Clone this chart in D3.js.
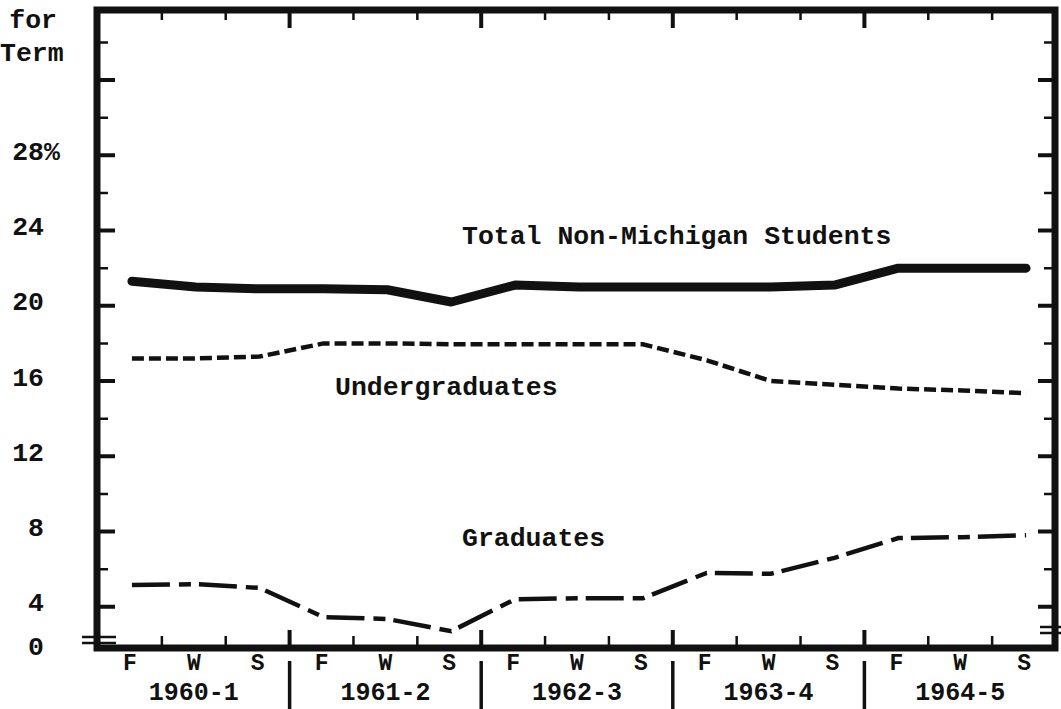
<!DOCTYPE html>
<html>
<head>
<meta charset="utf-8">
<script src="https://cdn.jsdelivr.net/npm/d3@7/dist/d3.min.js"></script>
<style>
  body { margin: 0; background: #fff; }
  text { font-family: "Liberation Mono", "DejaVu Sans Mono", monospace; font-size: 26.5px; font-weight: bold; fill: #111; }
  text.small { font-size: 23px; }
  text.yr { font-size: 25px; }
</style>
</head>
<body>
<script>
var terms = ["F", "W", "S"],
    years = ["1960-1", "1961-2", "1962-3", "1963-4", "1964-5"],
    yTicks = [4, 8, 12, 16, 20, 24, 28],
    total = [21.3, 21.0, 20.9, 20.9, 20.85, 20.2, 21.1, 21.0, 21.0, 21.0, 21.0, 21.1, 22.0, 22.0, 22.0],
    undergrad = [17.2, 17.2, 17.3, 18.0, 18.0, 17.95, 17.95, 17.95, 17.95, 17.1, 16.0, 15.8, 15.6, 15.5, 15.35],
    grad = [5.15, 5.2, 5.0, 3.45, 3.35, 2.7, 4.4, 4.45, 4.45, 5.8, 5.75, 6.6, 7.65, 7.7, 7.8];

var width = 1061, height = 709,
    fLeft = 97, fRight = 1055, fTop = 10, fBottom = 648;

var svg = d3.select("body").append("svg")
    .attr("width", width)
    .attr("height", height);

var nTerms = years.length * terms.length;
var x = d3.scaleLinear().domain([0, nTerms]).range([98, 1056]);
var y = d3.scaleLinear().domain([0, 32]).range([682, 80]);

var ink = "#111";

// y ticks, both sides, pointing inward
var minorY = d3.range(6, 35, 4), majorY = d3.range(4, 33, 4);
svg.selectAll(".ymaj").data(majorY).enter().append("path")
    .attr("stroke", ink).attr("stroke-width", 4)
    .attr("d", function(d) {
        return "M" + [fLeft, y(d)] + "H" + (fLeft + 18) + "M" + [fRight, y(d)] + "H" + (fRight - 17);
    });
svg.selectAll(".ymin").data(minorY).enter().append("path")
    .attr("stroke", ink).attr("stroke-width", 2.5)
    .attr("d", function(d) {
        return "M" + [fLeft, y(d)] + "H" + (fLeft + 11) + "M" + [fRight, y(d)] + "H" + (fRight - 11);
    });

// x ticks at term boundaries, bottom and top
var bounds = d3.range(1, nTerms);
svg.selectAll(".xt").data(bounds).enter().append("path")
    .attr("stroke", ink)
    .attr("stroke-width", function(d) { return d % 3 ? 2.5 : 4; })
    .attr("d", function(d) {
        var h = d % 3 ? 12 : 18;
        return "M" + [x(d), fBottom] + "V" + (fBottom - h) +
               "M" + [x(d), fTop] + "V" + (fTop + (d % 3 ? 10 : 18));
    });

// frame
svg.append("rect")
    .attr("x", fLeft).attr("y", fTop)
    .attr("width", fRight - fLeft).attr("height", fBottom - fTop)
    .attr("fill", "none").attr("stroke", ink).attr("stroke-width", 7);

// scale break marks
[[82, 116, 637], [82, 116, 643], [1040, 1061, 627], [1040, 1061, 633]].forEach(function(b) {
    svg.append("path").attr("stroke", ink).attr("stroke-width", 2.5)
        .attr("d", "M" + [b[0], b[2]] + "H" + b[1]);
});

// year separators below axis
svg.selectAll(".sep").data([3, 6, 9, 12]).enter().append("path")
    .attr("stroke", ink).attr("stroke-width", 3.5)
    .attr("d", function(d) { return "M" + [x(d), 661] + "V" + 709; });

// term and year labels
svg.selectAll(".term").data(d3.range(nTerms)).enter().append("text")
    .attr("class", "small")
    .attr("x", function(i) { return x(i + 0.5); })
    .attr("y", 670)
    .attr("text-anchor", "middle")
    .text(function(i) { return terms[i % 3]; });
svg.selectAll(".year").data(years).enter().append("text")
    .attr("class", "yr")
    .attr("x", function(d, i) { return x(i * 3 + 1.5); })
    .attr("y", 700)
    .attr("text-anchor", "middle")
    .text(function(d) { return d; });

// y labels
svg.selectAll(".yl").data(yTicks).enter().append("text")
    .attr("x", 44)
    .attr("y", function(d) { return y(d) + 4.5; })
    .attr("text-anchor", "end")
    .text(function(d) { return d; });
svg.append("text").attr("x", 44).attr("y", y(28) + 4.5).text("%");
svg.append("text").attr("x", 44).attr("y", 655).attr("text-anchor", "end").text("0");
svg.append("text").attr("x", 57).attr("y", 28).attr("text-anchor", "end").text("for");
svg.append("text").attr("x", 0).attr("y", 61).text("Term");

// series
var line = d3.line()
    .x(function(d, i) { return x(i + 0.5) + 2; })
    .y(function(d) { return y(d); });

svg.append("path").datum(total)
    .attr("fill", "none").attr("stroke", ink).attr("stroke-width", 9)
    .attr("stroke-linejoin", "round").attr("stroke-linecap", "round")
    .attr("d", line);
svg.append("path").datum(undergrad)
    .attr("fill", "none").attr("stroke", ink).attr("stroke-width", 4.5)
    .attr("stroke-dasharray", "12,5")
    .attr("d", line);
svg.append("path").datum(grad)
    .attr("fill", "none").attr("stroke", ink).attr("stroke-width", 4.5)
    .attr("stroke-dasharray", "38,9,12,8")
    .attr("d", line);

svg.append("text").attr("x", 462).attr("y", 244).text("Total Non-Michigan Students");
svg.append("text").attr("x", 335).attr("y", 395).text("Undergraduates");
svg.append("text").attr("x", 462).attr("y", 546).text("Graduates");
</script>
</body>
</html>
